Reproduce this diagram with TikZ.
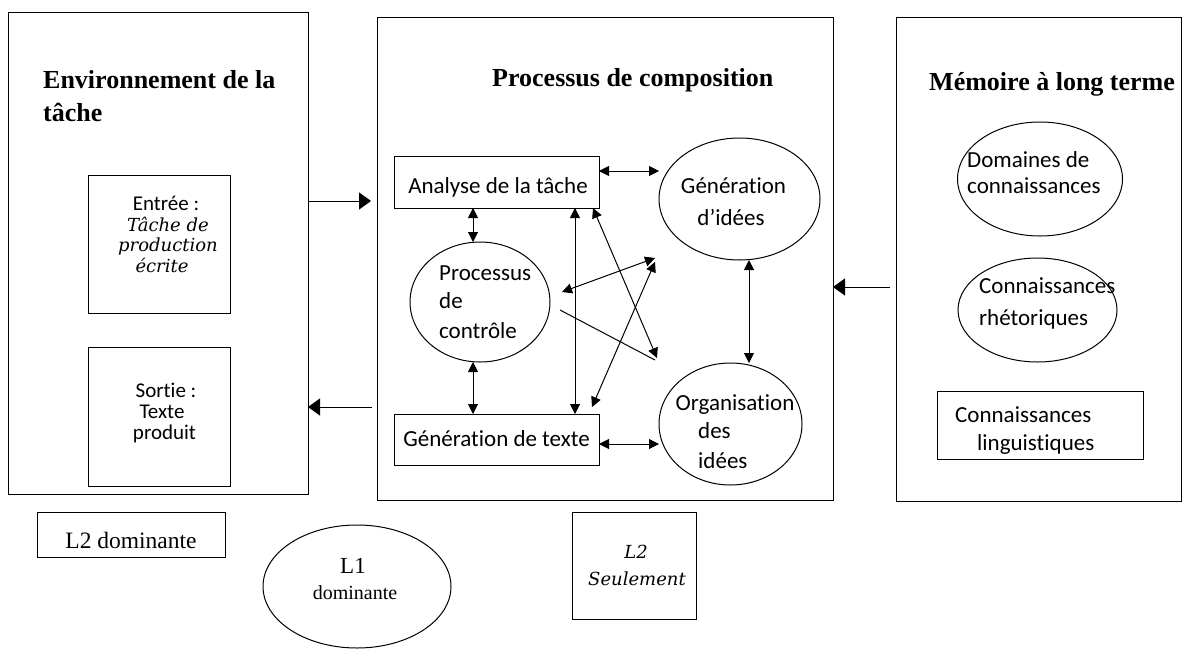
\documentclass[tikz,border=0pt]{standalone}
\usepackage{fontspec}
\setmainfont{Liberation Serif}
\newfontfamily\cbr{Carlito}[Ligatures=NoCommon]
\newfontfamily\slb{DejaVu Serif}
\usetikzlibrary{arrows.meta,shapes.geometric}
\begin{document}
\begin{tikzpicture}[x=1pt,y=-1pt,
  shp/.style={draw=black, line width=1pt, inner sep=0pt, outer sep=0pt},
  rbox/.style={shp, rectangle},
  ell/.style={shp, ellipse},
  cal/.style={font=\cbr\fontsize{23}{23}\selectfont, inner sep=0pt, anchor=base},
  calw/.style={cal, anchor=base west},
  cals/.style={font=\cbr\fontsize{21}{21}\selectfont, inner sep=0pt, anchor=base},
  ttl/.style={font=\bfseries\fontsize{26}{26}\selectfont, inner sep=0pt, anchor=base west},
  ital/.style={font=\slb\itshape\fontsize{18}{18}\selectfont, inner sep=0pt, anchor=base},
  serif/.style={font=\fontsize{#1}{#1}\selectfont, inner sep=0pt, anchor=base},
  dbl/.style={{Triangle[length=10pt,width=10pt]}-{Triangle[length=10pt,width=10pt]}, line width=1pt},
  big/.style={-{Triangle[length=12pt,width=17pt]}, line width=1pt},
  plain/.style={line width=1pt}]
\useasboundingbox (0,0) rectangle (1184,651);

% main boxes
\node[rbox, minimum width=300pt, minimum height=482pt] (env) at (158,253) {};
\node[rbox, minimum width=456pt, minimum height=483pt] (proc) at (605,258.5) {};
\node[rbox, minimum width=285pt, minimum height=484pt] (mem) at (1038.5,259) {};

% titles
\node[ttl] (t1a) at (43,88) {Environnement de la};
\node[ttl] (t1b) at (43,121) {tâche};
\node[ttl] (t2) at (492,86) {Processus de composition};
\node[ttl] (t3) at (929,90) {Mémoire à long terme};

% left inner boxes
\node[rbox, minimum width=142pt, minimum height=138pt] (entree) at (159,244) {};
\node[rbox, minimum width=142pt, minimum height=139pt] (sortie) at (159,416.5) {};
\node[cals] (e1) at (166,210) {Entrée :};
\node[ital] (e2) at (168,231) {Tâche de};
\node[ital] (e3) at (168,251) {production};
\node[ital] (e4) at (162,272) {écrite};
\node[cals] (s1) at (166,397) {Sortie :};
\node[cals] (s2) at (162,418) {Texte};
\node[cals] (s3) at (164.5,439) {produit};

% middle components
\node[rbox, minimum width=205pt, minimum height=52pt] (analyse) at (496.5,182) {};
\node[rbox, minimum width=205pt, minimum height=51pt] (gentexte) at (496.5,439.5) {};
\node[ell, minimum width=140pt, minimum height=120pt] (controle) at (480,302) {};
\node[ell, minimum width=161pt, minimum height=122pt] (genidees) at (739.5,199) {};
\node[ell, minimum width=143pt, minimum height=122pt] (organis) at (730.5,424) {};

\node[cal] (a1) at (498,193) {Analyse  de  la tâche};
\node[cal] (g1) at (496.5,446) {Génération de texte};
\node[cal] (gi1) at (733.5,193) {Génération};
\node[cal] (gi2) at (731,225) {d’idées};
\node[calw] (c1) at (439,280) {Processus};
\node[calw] (c2) at (439,308) {de};
\node[calw] (c3) at (439,338) {contrôle};
\node[cal] (o1) at (735,410) {Organisation};
\node[calw] (o2) at (698,438) {des};
\node[calw] (o3) at (698,468) {idées};

% right components
\node[ell, minimum width=165pt, minimum height=114pt] (domaines) at (1040,179) {};
\node[ell, minimum width=159pt, minimum height=104pt] (rhetor) at (1037.5,310) {};
\node[rbox, minimum width=206pt, minimum height=68pt] (ling) at (1040,425) {};
\node[calw] (d1) at (967,167) {Domaines  de};
\node[calw] (d2) at (967,193) {connaissances};
\node[calw] (r1) at (979,293) {Connaissances};
\node[calw] (r2) at (979,325) {rhétoriques};
\node[calw] (l1) at (955,422) {Connaissances};
\node[calw] (l2) at (977,450) {linguistiques};

% legend
\node[rbox, minimum width=188pt, minimum height=45pt] (l2dom) at (131,534.5) {};
\node[serif=23.5] (l2domt) at (131,548) {L2 dominante};
\node[ell, minimum width=188pt, minimum height=123pt] (l1dom) at (357,586.5) {};
\node[serif=23] (l1t) at (353,573) {L1};
\node[serif=20] (l1t2) at (355,599) {dominante};
\node[rbox, minimum width=124pt, minimum height=107pt] (l2seul) at (634,565.5) {};
\node[ital] (l2s1) at (636,558) {L2};
\node[ital] (l2s2) at (637,585) {Seulement};

% big arrows between main boxes
\draw[big, shorten >=6pt] ([yshift=52pt]env.east) -- ([yshift=57.5pt]proc.west);
\draw[big, shorten <=5pt] ([yshift=-148.5pt]proc.west) -- ([yshift=-154pt]env.east);
\draw[big, shorten <=6pt] ([yshift=-28pt]mem.west) -- ([yshift=-28.5pt]proc.east);

% internal connectors
\draw[dbl] ([yshift=11pt]analyse.east) -- ([yshift=28pt]genidees.west);
\draw[dbl] ([yshift=-4.5pt]gentexte.east) -- ([yshift=-20pt]organis.west);
\draw[dbl] ([xshift=-23.5pt]analyse.south) -- ([xshift=-7pt]controle.north);
\draw[dbl] ([xshift=-7pt]controle.south) -- ([xshift=-23.5pt]gentexte.north);
\draw[dbl] ([xshift=78.5pt]analyse.south) -- ([xshift=78.5pt]gentexte.north);
\draw[dbl] ([xshift=9.5pt]genidees.south) -- ([xshift=18.5pt]organis.north);
\draw[dbl] ([xshift=-6pt]analyse.south east) -- ([xshift=-2pt,yshift=66pt]organis.west);
\draw[dbl] ([xshift=12pt,yshift=10pt]controle.east) -- ([xshift=-4pt,yshift=-59pt]genidees.west);
\draw[dbl] ([xshift=-7pt,yshift=7pt]gentexte.north east) -- ([xshift=-4pt,yshift=-63pt]genidees.west);
\draw[plain] ([xshift=10pt,yshift=-8pt]controle.east) -- ([xshift=-4pt,yshift=64pt]organis.west);
\end{tikzpicture}
\end{document}
